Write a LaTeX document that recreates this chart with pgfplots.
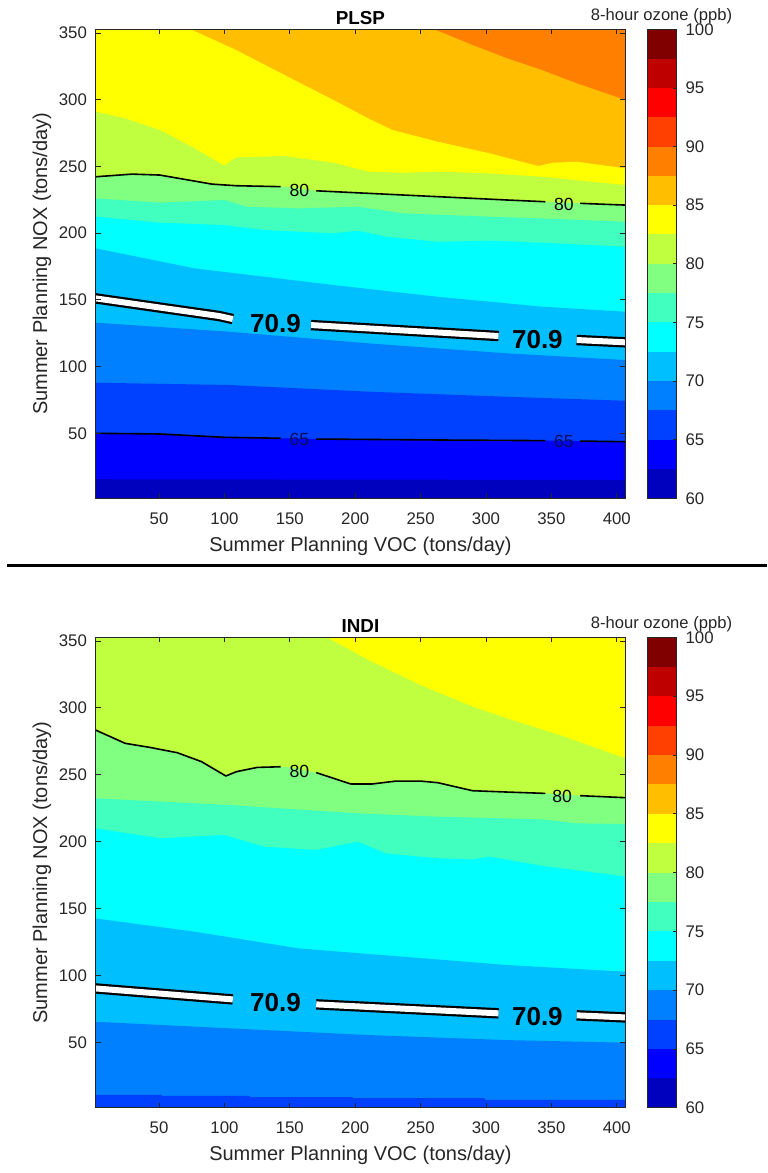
\documentclass[border=0pt]{standalone}
\usepackage{fontspec}
\setmainfont{Liberation Sans}
\usepackage{pgfplots}
\pgfplotsset{compat=1.18}
\definecolor{c1}{rgb}{0,0,0.75}
\definecolor{c2}{rgb}{0,0,1}
\definecolor{c3}{rgb}{0,0.25,1}
\definecolor{c4}{rgb}{0,0.5,1}
\definecolor{c5}{rgb}{0,0.75,1}
\definecolor{c6}{rgb}{0,1,1}
\definecolor{c7}{rgb}{0.25,1,0.75}
\definecolor{c8}{rgb}{0.5,1,0.5}
\definecolor{c9}{rgb}{0.75,1,0.25}
\definecolor{c10}{rgb}{1,1,0}
\definecolor{c11}{rgb}{1,0.75,0}
\definecolor{c12}{rgb}{1,0.5,0}
\definecolor{c13}{rgb}{1,0.25,0}
\definecolor{c14}{rgb}{1,0,0}
\definecolor{c15}{rgb}{0.75,0,0}
\definecolor{c16}{rgb}{0.5,0,0}
\definecolor{axgray}{rgb}{0.15,0.15,0.15}
\definecolor{navy65}{rgb}{0.05,0.05,0.35}

\pgfplotsset{
  panel/.style={
    scale only axis, width=264.85pt,
    xmin=1.5, xmax=406.5, ymin=1.3, ymax=352.7,
    xtick={50,100,...,400}, ytick={50,100,...,350},
    xtick pos=both, ytick pos=both,
    tick align=inside, major tick length=2.5pt,
    tick style={axgray, line width=0.4pt},
    axis line style={axgray},
    axis on top,
    /pgf/number format/assume math mode=true,
    ticklabel style={font=\fontsize{8.4}{10}\selectfont, text=axgray},
    xticklabel style={anchor=base, yshift=-13pt},
    yticklabel style={anchor=east, xshift=-0.8pt},
    label style={font=\fontsize{10}{12}\selectfont, text=axgray},
    xlabel={Summer Planning VOC (tons/day)},
    ylabel={Summer Planning NOX (tons/day)},
    xlabel style={at={(axis description cs:0.5,0)}, anchor=base, yshift=-26.5pt},
    ylabel style={at={(axis description cs:-0.1012,0.5)}, anchor=center},
    title style={at={(axis description cs:0.5,1)}, anchor=base, yshift=-3.6pt, font=\bfseries\fontsize{9.4}{11}\selectfont},
  },
  cbar/.style={
    scale only axis, width=14.6pt,
    xmin=0, xmax=1, ymin=60, ymax=100,
    xtick=\empty, ytick={60,65,...,100},
    ytick pos=right, yticklabel pos=right,
    tick align=inside, major tick length=1.5pt,
    tick style={axgray, line width=0.4pt},
    axis line style={axgray},
    axis on top,
    /pgf/number format/assume math mode=true,
    yticklabel style={font=\fontsize{8.4}{10}\selectfont, text=axgray, anchor=west, xshift=1.2pt},
    title={8-hour ozone (ppb)},
    title style={at={(axis description cs:0.5,1)}, anchor=base, yshift=-1.5pt, font=\fontsize{8.3}{10}\selectfont, text=axgray},
  },
  band/.style={fill=#1, draw=none},
  c80/.style={black, line width=0.8pt, line join=round},
  c709a/.style={black, line width=5.2pt, line cap=butt, line join=round},
  c709b/.style={white, line width=3pt, line cap=butt, line join=round},
}

\newcommand{\cbarbands}{%
  \addplot[band=c1] coordinates {(0,60)(1,60)(1,62.5)(0,62.5)};
  \addplot[band=c2] coordinates {(0,62.5)(1,62.5)(1,65)(0,65)};
  \addplot[band=c3] coordinates {(0,65)(1,65)(1,67.5)(0,67.5)};
  \addplot[band=c4] coordinates {(0,67.5)(1,67.5)(1,70)(0,70)};
  \addplot[band=c5] coordinates {(0,70)(1,70)(1,72.5)(0,72.5)};
  \addplot[band=c6] coordinates {(0,72.5)(1,72.5)(1,75)(0,75)};
  \addplot[band=c7] coordinates {(0,75)(1,75)(1,77.5)(0,77.5)};
  \addplot[band=c8] coordinates {(0,77.5)(1,77.5)(1,80)(0,80)};
  \addplot[band=c9] coordinates {(0,80)(1,80)(1,82.5)(0,82.5)};
  \addplot[band=c10] coordinates {(0,82.5)(1,82.5)(1,85)(0,85)};
  \addplot[band=c11] coordinates {(0,85)(1,85)(1,87.5)(0,87.5)};
  \addplot[band=c12] coordinates {(0,87.5)(1,87.5)(1,90)(0,90)};
  \addplot[band=c13] coordinates {(0,90)(1,90)(1,92.5)(0,92.5)};
  \addplot[band=c14] coordinates {(0,92.5)(1,92.5)(1,95)(0,95)};
  \addplot[band=c15] coordinates {(0,95)(1,95)(1,97.5)(0,97.5)};
  \addplot[band=c16] coordinates {(0,97.5)(1,97.5)(1,100)(0,100)};
}

\begin{document}
\begin{tikzpicture}
\useasboundingbox (0,0) rectangle (383.5pt,-586.5pt);

% ================= PLSP =================
\begin{axis}[panel, at={(47.8pt,-249.15pt)}, anchor=south west, height=234.5pt, title={PLSP}]
\addplot[band=c12] coordinates {(0,-10)(410,-10)(410,500)(0,500)};
\addplot[band=c11] coordinates {(0,420)(150,385)(230,362)(260.5,352.6)(289.7,340.9)(316.2,330.9)(342.8,322.1)(369.4,312.2)(406.5,299.7)(410,298.5)(410,-10)(0,-10)};
\addplot[band=c10] coordinates {(0,386)(74.5,352.6)(109.1,337.1)(143.6,319.6)(183.4,299.7)(210,285.9)(228.6,277.2)(263.1,268.5)(303,259.7)(340.1,250.2)(350.8,252.7)(369.4,253.5)(406.5,248.5)(410,248)(410,-10)(0,-10)};
\addplot[band=c9] coordinates {(0,291.2)(1.5,290.9)(24.1,285.9)(50.6,277.2)(77.2,263.5)(99.8,250.5)(109.1,256.7)(146.3,257.7)(183.4,252.7)(210,246)(236.6,245.2)(263.1,246)(303,244.7)(342.8,242.2)(406.5,236)(410,235.8)(410,-10)(0,-10)};
\addplot[band=c8] coordinates {(0,242.4)(1.5,242.2)(29.4,244.2)(50.6,243.5)(90.5,236.7)(109.1,235.5)(146.3,234.7)(170.2,231.7)(210,229.8)(263.1,227.3)(316.2,224.8)(345.4,223.5)(372,222.3)(406.5,221)(410,220.9)(410,-10)(0,-10)};
\addplot[band=c7] coordinates {(0,226)(1.5,226)(50.6,222.8)(99.8,224.8)(117,219.8)(156.9,218.5)(202,219.8)(236.6,214.8)(303,212.3)(342.8,211)(406.5,208.5)(410,208.4)(410,-10)(0,-10)};
\addplot[band=c6] coordinates {(0,212.4)(1.5,212.3)(50.6,207.8)(99.8,206)(130.3,202.3)(183.4,199.8)(202,201.8)(223.3,197.3)(263.1,193.5)(303,194.3)(342.8,192.8)(406.5,189.8)(410,189.7)(410,-10)(0,-10)};
\addplot[band=c5] coordinates {(0,189)(1.5,188.6)(77.2,173.6)(183.4,161.1)(263.1,152.3)(342.8,144.9)(406.5,141.1)(410,141)(410,-10)(0,-10)};
\addplot[band=c4] coordinates {(0,133)(1.5,132.9)(103.8,126.1)(210,117.4)(316.2,109.9)(406.5,104.9)(410,104.8)(410,-10)(0,-10)};
\addplot[band=c3] coordinates {(0,88)(1.5,87.9)(103.8,86.2)(210,81.2)(316.2,77.4)(406.5,74.4)(410,74.3)(410,-10)(0,-10)};
\addplot[band=c2] coordinates {(0,50)(1.5,50)(50.6,49.5)(99.8,47)(143,46.3)(170.2,45.7)(263.1,45)(345.4,44.5)(372,44.2)(406.5,43.7)(410,43.6)(410,-10)(0,-10)};
\addplot[band=c1] coordinates {(0,15.6)(410,15)(410,-10)(0,-10)};
% 80 contour
\addplot[c80] coordinates {(0,242.4)(1.5,242.2)(29.4,244.2)(50.6,243.5)(90.5,236.7)(109.1,235.5)(143,234.8)};
\addplot[c80] coordinates {(170.2,231.7)(210,229.8)(263.1,227.3)(316.2,224.8)(345.4,223.5)};
\addplot[c80] coordinates {(372,222.3)(406.5,221)(410,220.9)};
% 65 contour
\addplot[c80] coordinates {(0,50)(1.5,50)(50.6,49.5)(99.8,47)(143,46.3)};
\addplot[c80] coordinates {(170.2,45.7)(263.1,45)(345.4,44.5)};
\addplot[c80] coordinates {(372,44.2)(406.5,43.7)(410,43.6)};
% 70.9 contour
\addplot[c709a] coordinates {(0,151.5)(1.5,151.1)(95.8,137.9)(106.4,135.6)};
\addplot[c709a] coordinates {(166.2,131.1)(309.6,122.9)};
\addplot[c709a] coordinates {(369.3,119.9)(410,118)};
\addplot[c709b] coordinates {(0,151.5)(1.5,151.1)(95.8,137.9)(106.4,135.6)};
\addplot[c709b] coordinates {(166.2,131.1)(309.6,122.9)};
\addplot[c709b] coordinates {(369.3,119.9)(410,118)};
\node[font=\fontsize{8.8}{10}\selectfont] at (axis cs:157.4,232.3) {80};
\node[font=\fontsize{8.8}{10}\selectfont] at (axis cs:359.5,221.8) {80};
\node[font=\fontsize{8.8}{10}\selectfont, text=navy65] at (axis cs:157.4,45.5) {65};
\node[font=\fontsize{8.8}{10}\selectfont, text=navy65] at (axis cs:359.5,43.7) {65};
\node[font=\bfseries\fontsize{13}{15}\selectfont] at (axis cs:139,132.4) {70.9};
\node[font=\bfseries\fontsize{13}{15}\selectfont] at (axis cs:339.3,120.4) {70.9};
\end{axis}

\begin{axis}[cbar, at={(323.45pt,-249.15pt)}, anchor=south west, height=234.5pt]
\cbarbands
\end{axis}

% separator
\draw[line width=1.5pt, black] (3.5pt,-282.5pt) -- (383.5pt,-282.5pt);

% ================= INDI =================
\begin{axis}[panel, at={(47.8pt,-553.85pt)}, anchor=south west, height=235.2pt, title={INDI}]
\addplot[band=c10] coordinates {(0,-10)(410,-10)(410,500)(0,500)};
\addplot[band=c9] coordinates {(0,450)(100,400)(160,365)(178.1,352.7)(210,335.7)(249.8,317)(289.7,300.9)(316.2,292.1)(356.1,279.7)(406.5,262.3)(410,261)(410,-10)(0,-10)};
\addplot[band=c8] coordinates {(0,284.2)(1.5,283.4)(24.1,273.5)(42.7,270.5)(63.9,266.5)(82.5,259.8)(101.1,249.1)(109.1,252.3)(125,255.5)(146.3,256)(170.2,251.6)(196.7,243.1)(212.7,243.1)(231.2,245.3)(249.8,245.3)(263.1,244.1)(289.7,238.1)(316.2,237.1)(345.4,236.1)(372,234.4)(406.5,232.9)(410,232.8)(410,-10)(0,-10)};
\addplot[band=c7] coordinates {(0,232.5)(1.5,232.4)(103.8,227.4)(202,221.2)(263.1,218.7)(342.8,216.7)(369.4,213.7)(406.5,213.2)(410,213.1)(410,-10)(0,-10)};
\addplot[band=c6] coordinates {(0,210)(1.5,210)(50.6,202.5)(99.8,205)(130.3,196.3)(170.2,193.8)(202,200)(223.3,191.3)(263.1,187.6)(289.7,186.8)(303,188.8)(342.8,182)(406.5,174)(410,173.8)(410,-10)(0,-10)};
\addplot[band=c5] coordinates {(0,143)(1.5,142.7)(77.2,132.8)(156.9,120.3)(236.6,114.1)(316.2,107.9)(406.5,102.9)(410,102.8)(410,-10)(0,-10)};
\addplot[band=c4] coordinates {(0,65.6)(1.5,65.5)(103.8,60.6)(210,55.6)(316.2,51.8)(406.5,49.9)(410,49.8)(410,-10)(0,-10)};
\addplot[band=c3] coordinates {(0,10.8)(51.8,10.8)(52.5,10.1)(119.2,10.1)(120,9.2)(197.8,9.2)(198.5,8.4)(298.8,8.4)(299.5,7.2)(410,7.2)(410,-10)(0,-10)};
% 80 contour
\addplot[c80] coordinates {(0,284.2)(1.5,283.4)(24.1,273.5)(42.7,270.5)(63.9,266.5)(82.5,259.8)(101.1,249.1)(109.1,252.3)(125,255.5)(143,256)};
\addplot[c80] coordinates {(170.2,251.6)(196.7,243.1)(212.7,243.1)(231.2,245.3)(249.8,245.3)(263.1,244.1)(289.7,238.1)(316.2,237.1)(345.4,236.1)};
\addplot[c80] coordinates {(372,234.4)(406.5,232.9)(410,232.8)};
% 70.9 contour
\addplot[c709a] coordinates {(0,90.8)(1.5,90.4)(106.4,82.2)};
\addplot[c709a] coordinates {(170.2,78.5)(309.6,71.8)};
\addplot[c709a] coordinates {(369.3,70.3)(410,68.6)};
\addplot[c709b] coordinates {(0,90.8)(1.5,90.4)(106.4,82.2)};
\addplot[c709b] coordinates {(170.2,78.5)(309.6,71.8)};
\addplot[c709b] coordinates {(369.3,70.3)(410,68.6)};
\node[font=\fontsize{8.8}{10}\selectfont] at (axis cs:157.4,252.3) {80};
\node[font=\fontsize{8.8}{10}\selectfont] at (axis cs:358.2,234.1) {80};
\node[font=\bfseries\fontsize{13}{15}\selectfont] at (axis cs:139,79.7) {70.9};
\node[font=\bfseries\fontsize{13}{15}\selectfont] at (axis cs:339.3,69.3) {70.9};
\end{axis}

\begin{axis}[cbar, at={(323.45pt,-553.85pt)}, anchor=south west, height=235.2pt]
\cbarbands
\end{axis}
\end{tikzpicture}
\end{document}
